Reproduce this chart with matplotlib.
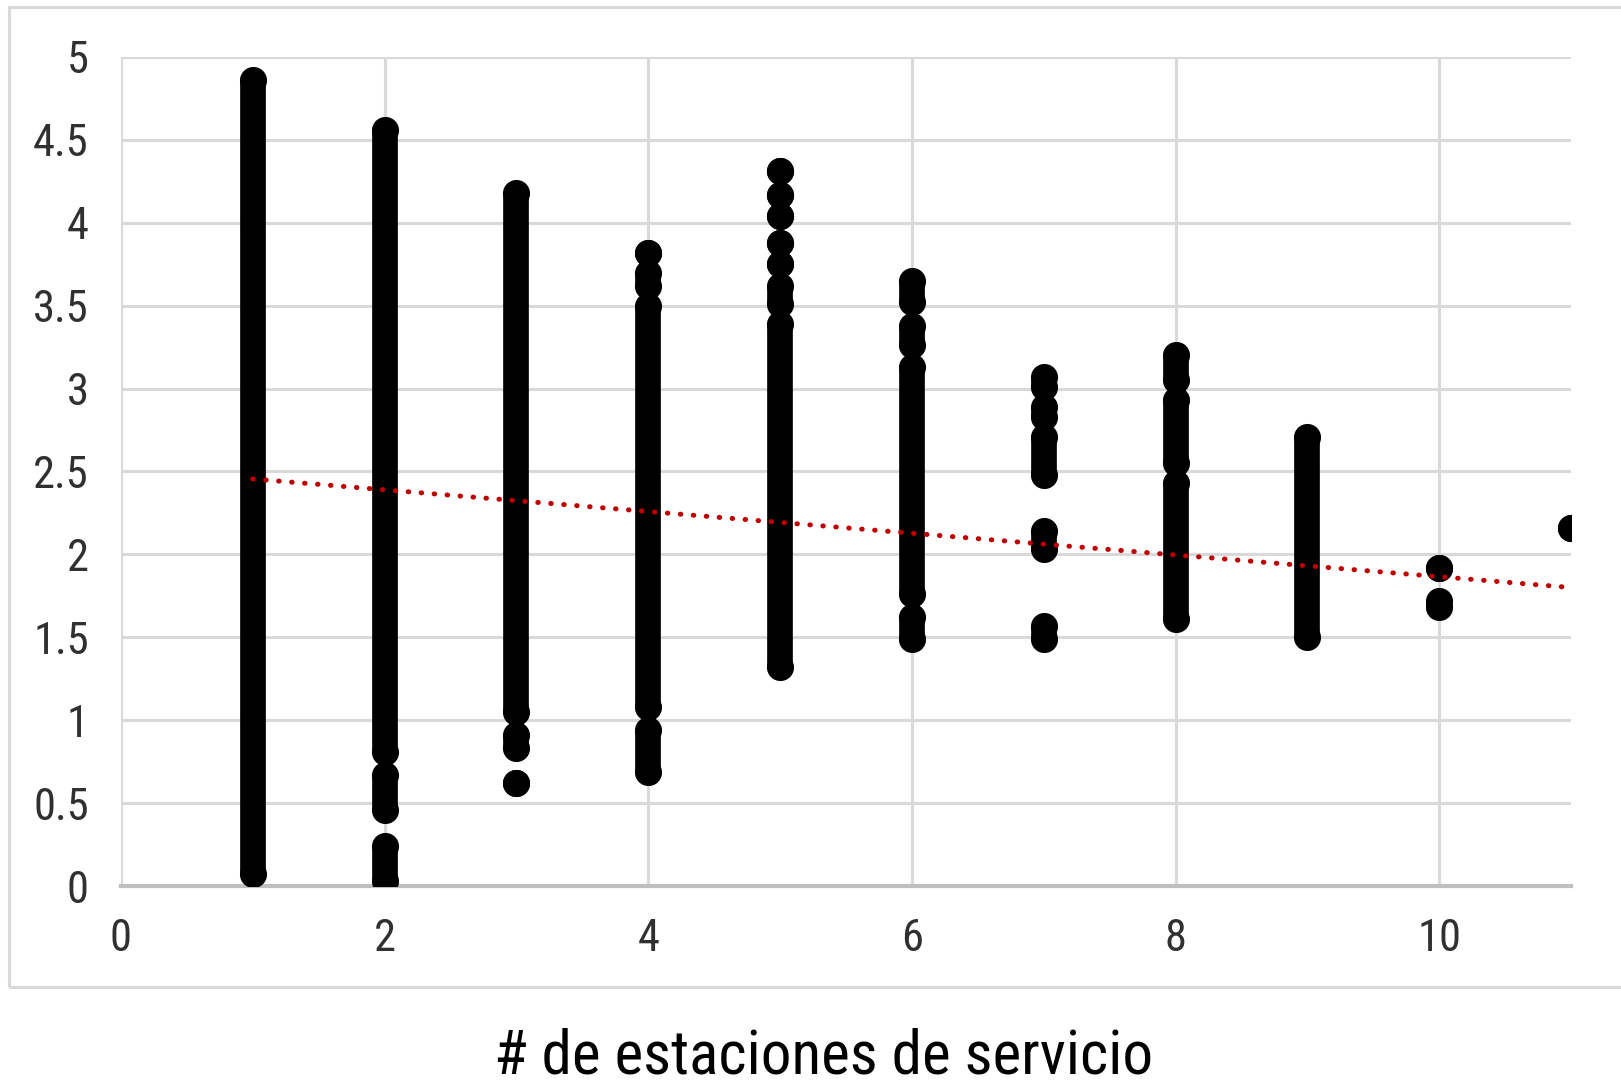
import matplotlib
matplotlib.use("Agg")
import matplotlib.pyplot as plt
from matplotlib.patches import Rectangle

plt.rcParams["font.family"] = ["Roboto Condensed", "Liberation Sans Narrow",
                               "Liberation Sans", "DejaVu Sans"]

# Clusters of overlapping points: (station count, lowest value, highest value)
seg_x = [1, 2, 2, 2, 3, 3, 3,
         4, 4, 4, 4,
         5, 5, 5, 5, 5, 5, 5,
         6, 6, 6, 6,
         7, 7, 7, 7, 7,
         8, 8, 8,
         9, 10, 10, 11]
seg_lo = [0.07, 0.81, 0.46, 0.03, 1.05, 0.83, 0.62,
          3.82, 3.62, 1.08, 0.69,
          4.31, 4.17, 4.04, 3.88, 3.75, 3.51, 1.32,
          3.52, 3.26, 1.76, 1.49,
          3.01, 2.83, 2.48, 2.03, 1.49,
          3.05, 2.55, 1.61,
          1.50, 1.68, 1.92, 2.16]
seg_hi = [4.86, 4.56, 0.67, 0.24, 4.18, 0.91, 0.62,
          3.82, 3.70, 3.50, 0.94,
          4.31, 4.17, 4.04, 3.88, 3.75, 3.62, 3.39,
          3.65, 3.38, 3.13, 1.62,
          3.07, 2.89, 2.71, 2.14, 1.57,
          3.20, 2.93, 2.43,
          2.71, 1.72, 1.92, 2.16]

# linear trend
trend_x = [1, 11]
trend_y = [2.455, 1.80]

x_ticks = [0, 2, 4, 6, 8, 10]
y_ticks = [0, 0.5, 1, 1.5, 2, 2.5, 3, 3.5, 4, 4.5, 5]
y_labels = ["0", "0.5", "1", "1.5", "2", "2.5", "3", "3.5", "4", "4.5", "5"]
x_title = "# de estaciones de servicio"

fig = plt.figure(figsize=(16.21, 10.83), dpi=100)
ax = fig.add_axes([0.0746, 0.1819, 0.8946, 0.7655])

grid_c = "#d9d9d9"
ms = 18.5
for x, lo, hi in zip(seg_x, seg_lo, seg_hi):
    ax.plot([x, x], [lo, hi], color="black", lw=ms, marker="o", ms=ms,
            solid_capstyle="butt", zorder=3)

ax.plot(trend_x, trend_y, color="#c00000", lw=3.6,
        linestyle=(0, (0.1, 2.5)), dash_capstyle="round", zorder=4)

ax.set_xlim(0, 11)
ax.set_ylim(0, 5)
ax.set_xticks(x_ticks)
ax.set_xticklabels([str(t) for t in x_ticks])
ax.set_yticks(y_ticks)
ax.set_yticklabels(y_labels)
ax.tick_params(length=0, labelsize=32, labelcolor="#303030", pad=23)
ax.grid(True, color=grid_c, lw=2.2)
ax.set_axisbelow(True)
for side in ["top", "right", "left"]:
    ax.spines[side].set_visible(False)
ax.spines["bottom"].set_color("#bfbfbf")
ax.spines["bottom"].set_linewidth(3)

# outer chart border
fig.patches.append(Rectangle((0.0057, 0.0886), 1.2, 0.9047, transform=fig.transFigure,
                             fill=False, edgecolor=grid_c, lw=2.2))

fig.text(0.508, 0.009, x_title, ha="center", va="baseline", fontsize=44, color="black")

fig.savefig("out.png", dpi=100)
